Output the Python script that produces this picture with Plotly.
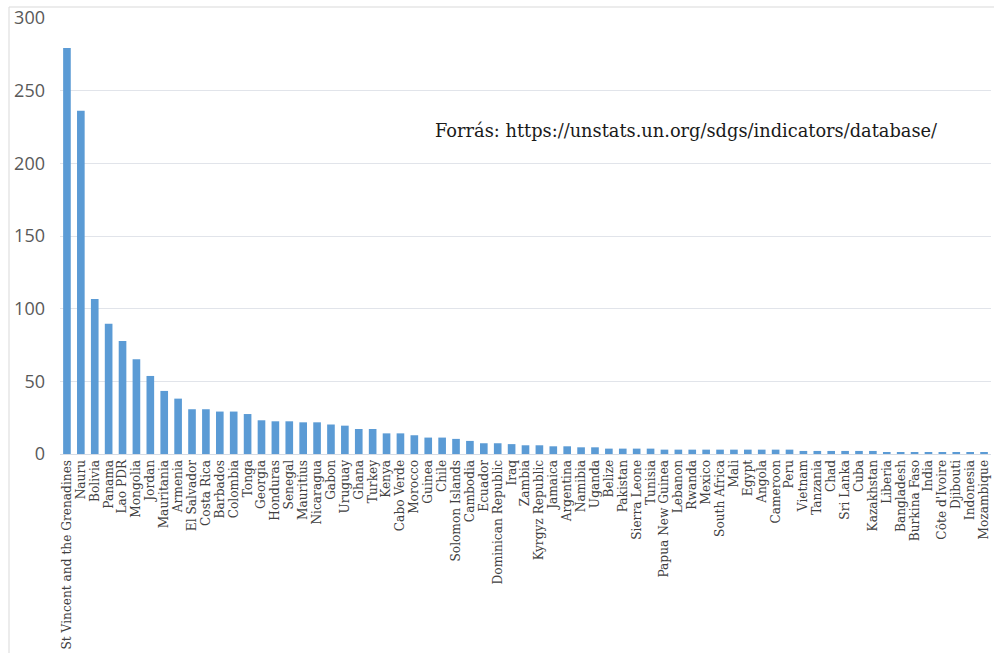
import plotly.graph_objects as go

countries = [
    "St Vincent and the Grenadines", "Nauru", "Bolivia", "Panama", "Lao PDR", "Mongolia",
    "Jordan", "Mauritania", "Armenia", "El Salvador", "Costa Rica", "Barbados", "Colombia",
    "Tonga", "Georgia", "Honduras", "Senegal", "Mauritius", "Nicaragua", "Gabon", "Uruguay",
    "Ghana", "Turkey", "Kenya", "Cabo Verde", "Morocco", "Guinea", "Chile", "Solomon Islands",
    "Cambodia", "Ecuador", "Dominican Republic", "Iraq", "Zambia", "Kyrgyz Republic", "Jamaica",
    "Argentina", "Namibia", "Uganda", "Belize", "Pakistan", "Sierra Leone", "Tunisia",
    "Papua New Guinea", "Lebanon", "Rwanda", "Mexico", "South Africa", "Mali", "Egypt", "Angola",
    "Cameroon", "Peru", "Vietnam", "Tanzania", "Chad", "Sri Lanka", "Cuba", "Kazakhstan",
    "Liberia", "Bangladesh", "Burkina Faso", "India", "Côte d'Ivoire", "Djibouti", "Indonesia",
    "Mozambique",
]

values = [
    279.4, 236.2, 106.7, 89.7, 77.8, 65.2, 53.7, 43.4, 38.1, 30.8, 30.8, 29.2, 29.2,
    27.5, 23.2, 22.5, 22.5, 21.8, 21.8, 20.3, 19.5, 17.2, 17.2, 14.2, 14.2, 12.9, 11.3,
    11.3, 10.4, 9.0, 7.4, 7.4, 6.8, 6.0, 6.0, 5.3, 5.3, 4.6, 4.6, 3.7, 3.7, 3.7, 3.7,
    3.0, 3.0, 3.0, 3.0, 3.0, 3.0, 3.0, 3.0, 3.0, 3.0, 2.1, 2.1, 2.1, 2.1, 2.1, 2.1,
    1.4, 1.4, 0.7, 0.7, 0.7, 0.7, 0.7, 0.7,
]

y_ticks = [0, 50, 100, 150, 200, 250, 300]
source_text = "Forrás: https://unstats.un.org/sdgs/indicators/database/"

W, H = 994, 653
L, R, T, B = 60, 3, 18, 199
pw = W - L - R
ph = H - T - B

fig = go.Figure(
    go.Bar(
        x=countries,
        y=values,
        marker=dict(color="#5b9bd5", line=dict(width=0)),
    )
)

fig.update_layout(
    width=W,
    height=H,
    margin=dict(l=L, r=R, t=T, b=B),
    paper_bgcolor="white",
    plot_bgcolor="white",
    bargap=0.45,
    showlegend=False,
    xaxis=dict(
        tickmode="array",
        tickvals=countries,
        ticktext=countries,
        tickangle=-90,
        tickfont=dict(family="DejaVu Serif", size=12.2, color="#404040"),
        showline=True,
        linecolor="#d6dce5",
        linewidth=1,
        showgrid=False,
        ticks="",
        automargin=False,
    ),
    yaxis=dict(
        range=[0, 300],
        tickvals=y_ticks,
        tickfont=dict(family="Open Sans", size=18, color="#595959"),
        showgrid=True,
        gridcolor="#e1e4ea",
        gridwidth=1,
        zeroline=False,
        showline=False,
        ticks="",
        ticklabelstandoff=14,
        automargin=False,
    ),
    annotations=[
        dict(
            text=source_text,
            xref="paper", yref="paper",
            x=(433 - L) / pw, y=(H - B - 130) / ph,
            xanchor="left", yanchor="middle",
            showarrow=False,
            font=dict(family="DejaVu Serif", size=17.8, color="#1a1a1a"),
        )
    ],
    shapes=[
        dict(
            type="rect", xref="paper", yref="paper",
            x0=(9 - L) / pw, x1=(W + 20 - L) / pw,
            y0=-(B + 20) / ph, y1=(H - B - 7) / ph,
            line=dict(color="#d9d9d9", width=1),
            fillcolor="rgba(0,0,0,0)",
            layer="below",
        )
    ],
)

fig.write_html(
    "out.html",
    config={"displayModeBar": False},
    post_script="document.body.style.margin='0';",
)
